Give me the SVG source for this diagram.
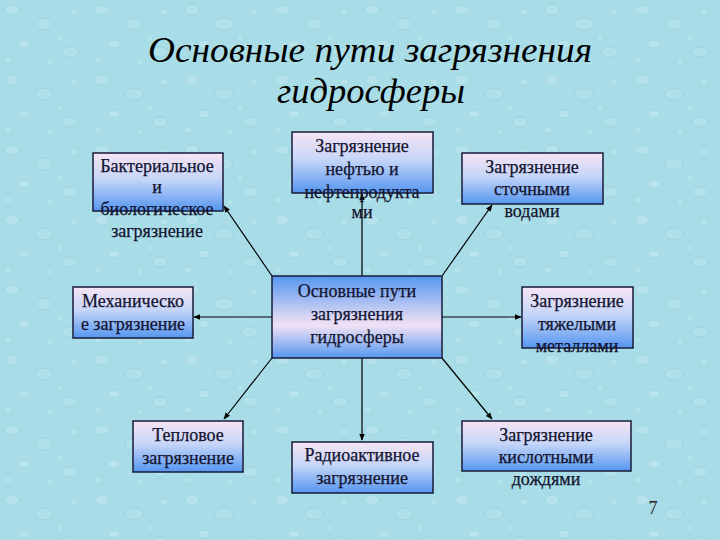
<svg xmlns="http://www.w3.org/2000/svg" width="720" height="540" viewBox="0 0 720 540">
<defs>
<linearGradient id="boxg" x1="0" y1="0" x2="0" y2="1">
<stop offset="0" stop-color="#f6e4f4"/>
<stop offset="0.45" stop-color="#c6d6f8"/>
<stop offset="1" stop-color="#5596f0"/>
</linearGradient>
<linearGradient id="centg" x1="0" y1="0" x2="0" y2="1">
<stop offset="0" stop-color="#5596f0"/>
<stop offset="0.6" stop-color="#f2e2f4"/>
<stop offset="1" stop-color="#5596f0"/>
</linearGradient>
<pattern id="drops" width="90" height="70" patternUnits="userSpaceOnUse">
<rect width="90" height="70" fill="#a8dde7"/>
<ellipse cx="12" cy="10" rx="7" ry="5" fill="#bfe8ef" stroke="#92cdd9" stroke-width="0.8" opacity="0.6"/>
<ellipse cx="44" cy="24" rx="9" ry="6" fill="#b6e3ec" stroke="#8cc8d5" stroke-width="0.8" opacity="0.6"/>
<ellipse cx="24" cy="44" rx="6" ry="4" fill="#c2e9f0" stroke="#92cdd9" stroke-width="0.8" opacity="0.6"/>
<ellipse cx="70" cy="52" rx="8" ry="5" fill="#b8e5ed" stroke="#8cc8d5" stroke-width="0.8" opacity="0.6"/>
<ellipse cx="74" cy="12" rx="4" ry="3" fill="#c2e9f0" stroke="#96cfda" stroke-width="0.6" opacity="0.5"/>
<ellipse cx="8" cy="60" rx="4" ry="3" fill="#c2e9f0" stroke="#96cfda" stroke-width="0.6" opacity="0.5"/>
<ellipse cx="50" cy="62" rx="3" ry="2.5" fill="#c2e9f0" stroke="#96cfda" stroke-width="0.6" opacity="0.5"/>
<ellipse cx="60" cy="38" rx="3" ry="2.5" fill="#c2e9f0" stroke="#96cfda" stroke-width="0.6" opacity="0.5"/>
</pattern>
<marker id="arr" viewBox="0 0 10 10" refX="9" refY="5" markerWidth="7" markerHeight="7" orient="auto-start-reverse" markerUnits="userSpaceOnUse">
<path d="M0,1 L10,5 L0,9 z" fill="#000"/>
</marker>
<style>
.box{fill:url(#boxg);stroke:#1a1a3a;stroke-width:1.5}
.cbox{fill:url(#centg);stroke:#1a1a3a;stroke-width:1.5}
.t{font-family:"Liberation Serif","DejaVu Serif",serif;font-size:18px;fill:#141430;stroke:#141430;stroke-width:0.25;text-anchor:middle}
.title{font-family:"Liberation Serif","DejaVu Serif",serif;font-style:italic;font-size:36px;fill:#000;text-anchor:middle}
.c{stroke:#000;stroke-width:1.2;fill:none;marker-end:url(#arr)}
</style>
</defs>
<rect width="720" height="540" fill="url(#drops)"/>
<g id="title">
<text class="title" x="370" y="62" textLength="444" lengthAdjust="spacingAndGlyphs">Основные пути  загрязнения</text>
<text class="title" x="371" y="103" textLength="188" lengthAdjust="spacingAndGlyphs">гидросферы</text>
</g>
<g id="connectors">
<line class="c" x1="362" y1="276" x2="362" y2="194"/>
<line class="c" x1="272" y1="276" x2="224" y2="206"/>
<line class="c" x1="442" y1="276" x2="492" y2="205"/>
<line class="c" x1="272" y1="317" x2="194" y2="317"/>
<line class="c" x1="442" y1="317" x2="521" y2="317"/>
<line class="c" x1="272" y1="358" x2="224" y2="419"/>
<line class="c" x1="362" y1="358" x2="362" y2="440"/>
<line class="c" x1="442" y1="358" x2="492" y2="419"/>
</g>
<g id="center">
<rect class="cbox" x="272" y="276" width="170" height="82"/>
<text class="t" x="357" y="297">Основные пути</text>
<text class="t" x="357" y="320">загрязнения</text>
<text class="t" x="357" y="343">гидросферы</text>
</g>
<g id="bacterial">
<rect class="box" x="93" y="153" width="130" height="58"/>
<text class="t" x="157" y="172">Бактериальное</text>
<text class="t" x="157" y="193">и</text>
<text class="t" x="157" y="215">биологическое</text>
<text class="t" x="157" y="237">загрязнение</text>
</g>
<g id="oil">
<rect class="box" x="292" y="132" width="141" height="61"/>
<text class="t" x="362" y="152">Загрязнение</text>
<text class="t" x="362" y="175">нефтью и</text>
<text class="t" x="362" y="198">нефтепродукта</text>
<text class="t" x="362" y="218">ми</text>
</g>
<g id="sewage">
<rect class="box" x="462" y="153" width="141" height="51"/>
<text class="t" x="532" y="173">Загрязнение</text>
<text class="t" x="532" y="195">сточными</text>
<text class="t" x="532" y="217">водами</text>
</g>
<g id="mechanical">
<rect class="box" x="73" y="287" width="120" height="51"/>
<text class="t" x="133" y="307">Механическо</text>
<text class="t" x="133" y="330">е загрязнение</text>
</g>
<g id="metals">
<rect class="box" x="522" y="287" width="111" height="61"/>
<text class="t" x="577" y="307">Загрязнение</text>
<text class="t" x="577" y="330">тяжелыми</text>
<text class="t" x="577" y="352">металлами</text>
</g>
<g id="thermal">
<rect class="box" x="133" y="421" width="110" height="51"/>
<text class="t" x="188" y="441">Тепловое</text>
<text class="t" x="188" y="464">загрязнение</text>
</g>
<g id="radioactive">
<rect class="box" x="292" y="442" width="141" height="51"/>
<text class="t" x="362" y="461">Радиоактивное</text>
<text class="t" x="362" y="484">загрязнение</text>
</g>
<g id="acid">
<rect class="box" x="462" y="421" width="169" height="50"/>
<text class="t" x="546" y="441">Загрязнение</text>
<text class="t" x="546" y="463">кислотными</text>
<text class="t" x="546" y="485">дождями</text>
</g>
<text x="653" y="514" style="font-family:'Liberation Serif',serif;font-size:18px;fill:#222;text-anchor:middle">7</text>
</svg>
